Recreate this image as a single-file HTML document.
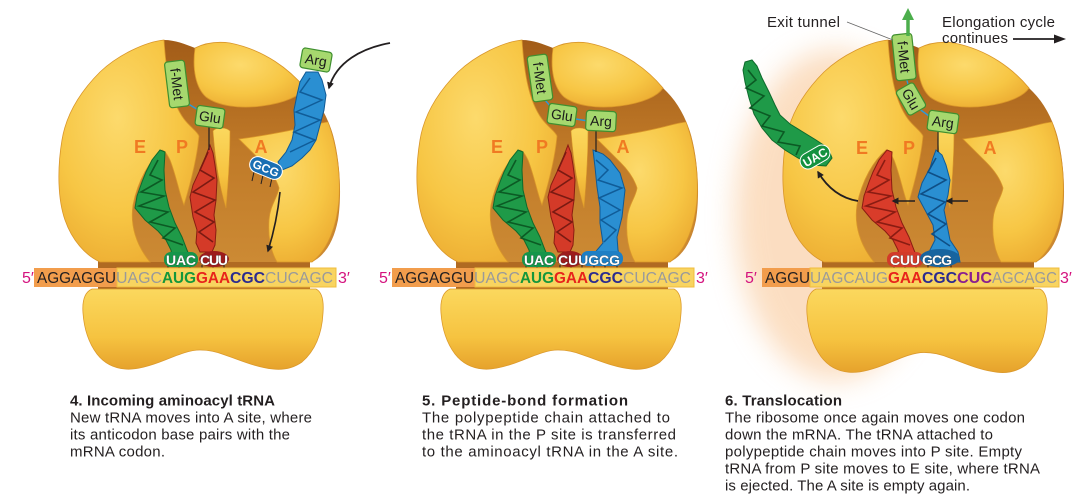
<!DOCTYPE html>
<html><head><meta charset="utf-8"><style>
html,body{margin:0;padding:0;background:#fff;}
svg{display:block;}
text{font-family:"Liberation Sans",Arial,sans-serif;}
</style></head><body>
<svg width="1080" height="501" viewBox="0 0 1080 501" xmlns="http://www.w3.org/2000/svg">
<defs>
 <radialGradient id="yel" cx="0.42" cy="0.35" r="0.8">
  <stop offset="0" stop-color="#fcda6c"/>
  <stop offset="0.55" stop-color="#f7c644"/>
  <stop offset="1" stop-color="#e9a42c"/>
 </radialGradient>
 <linearGradient id="yel2" x1="0" y1="0" x2="0" y2="1">
  <stop offset="0" stop-color="#fbd85e"/>
  <stop offset="0.6" stop-color="#f6c340"/>
  <stop offset="1" stop-color="#e6a22c"/>
 </linearGradient>
 <linearGradient id="brn" x1="0" y1="0" x2="0" y2="1">
  <stop offset="0" stop-color="#a25c18"/>
  <stop offset="0.5" stop-color="#c07a28"/>
  <stop offset="1" stop-color="#cc8a34"/>
 </linearGradient>
 <filter id="blur" x="-50%" y="-50%" width="200%" height="200%"><feGaussianBlur stdDeviation="14"/></filter>
 <marker id="ah" viewBox="0 0 10 10" refX="8" refY="5" markerWidth="7" markerHeight="7" orient="auto" markerUnits="userSpaceOnUse">
  <path d="M0,0 L10,5 L0,10 z" fill="#231f20"/>
 </marker>
 <g id="large">
  <rect x="98" y="250" width="212" height="40" fill="#b06a22"/>
  <path d="M164,40 C145,42 118,55 100,72 C80,92 66,115 62,140 C57,170 58,200 65,220 C72,240 85,255 100,262 L312,262 C326,255 334,240 338,220 C342,195 340,160 333,135 C327,115 318,100 305,88 C290,70 265,50 230,43 C215,41 203,44 195,48 C185,44 175,40 164,40 Z" fill="url(#brn)"/>
  <path d="M164,40 C166,70 170,100 184,119 C190,127 197,131 199,136 C197,160 190,185 184,205 C180,196 176,175 170,160 C167,154 165,151 162,150 C150,160 138,180 133,205 C130,225 136,245 150,262 L100,262 C85,255 72,240 65,220 C58,200 57,170 62,140 C66,115 80,92 100,72 C118,55 145,42 164,40 Z" fill="url(#yel)" stroke="#d9962a" stroke-width="0.8"/>
  <path d="M195,48 C203,44 215,41 230,43 C265,50 290,70 305,88 C300,96 285,103 262,106 C240,109 218,106 206,97 C196,88 192,70 195,48 Z" fill="url(#yel)" stroke="#d9962a" stroke-width="0.8"/>
  <path d="M213,131 C216,127 226,127 230,131 C230,160 228,185 226,208 C222,195 216,170 213,131 Z" fill="url(#yel2)" stroke="#d9962a" stroke-width="0.6"/>
  <path d="M239,139 C255,137 285,132 305,127 C313,125 320,123 328,122 C335,140 341,170 339,200 C337,225 328,250 312,262 L277,262 C270,250 268,235 269,220 C270,205 278,197 279,188 C276,178 270,170 262,162 C254,154 246,146 239,139 Z" fill="url(#yel)" stroke="#d9962a" stroke-width="0.8"/>
 </g>
 <path id="small" d="M92,289 L316,289 C322,292 324,300 323,313 C322,332 316,350 302,362 C292,369 282,370 273,369 C255,367 240,360 225,355 C215,351 205,350 200,350 C190,350 180,354 165,360 C150,366 135,370 125,369 C113,368 104,363 97,354 C88,342 84,327 83,313 C82,300 85,292 92,289 Z" fill="url(#yel2)" stroke="#dc9a2c" stroke-width="0.8"/>
</defs>

<!-- panel 3 halo -->
<ellipse cx="835" cy="215" rx="100" ry="165" fill="#f8bd84" opacity="0.5" filter="url(#blur)"/>

<!-- ribosomes -->
<use href="#large"/>
<use href="#small"/>
<use href="#large" transform="translate(358,0)"/>
<use href="#small" transform="translate(358,0)"/>
<use href="#large" transform="translate(724,0)"/>
<use href="#small" transform="translate(724,289) scale(1,1.04) translate(0,-289)"/>

<!-- E P A labels -->
<g font-weight="bold" font-size="18" fill="#f07a22" text-anchor="middle">
 <text x="140" y="153">E</text><text x="182" y="153">P</text><text x="261" y="153">A</text>
 <text x="497" y="153">E</text><text x="542" y="153">P</text><text x="623" y="153">A</text>
 <text x="862" y="154">E</text><text x="909" y="154">P</text><text x="990" y="154">A</text>
</g>

<!-- ===== Panel 1 tRNAs ===== -->
<polygon points="160,150 165,152 164,170 165,190 169,207 175,223 182,237 187,250 190,257 172,258 171,250 166,240 158,231 145,220 135,208 137,196 142,182 146,172 152,160" fill="#1f9a48" stroke="#0e6a2c" stroke-width="1"/>
<polyline points="158,160 150,175 162,180 141,192 164,196 139,206 168,212 150,222 175,228 163,238 183,245" fill="none" stroke="#0c5a24" stroke-width="1.6"/>
<polygon points="210,145 213,153 215,165 217,180 216,200 214,215 216,230 215,245 212,252 200,252 196,243 197,230 193,217 190,197 193,185 199,172 205,158" fill="#d43a28" stroke="#8a1c12" stroke-width="1"/>
<polyline points="208,152 200,170 214,178 193,192 215,200 195,212 214,222 199,232 213,242" fill="none" stroke="#7a1a12" stroke-width="1.6"/>
<polygon points="306,72 318,72 322,80 326,95 324,110 320,125 316,140 310,150 302,158 292,166 282,170 278,162 286,152 292,140 295,125 294,110 297,95 300,82" fill="#2a8fd2" stroke="#0f5a96" stroke-width="1"/>
<polyline points="310,78 300,92 322,100 296,112 320,120 294,132 315,140 290,152" fill="none" stroke="#105c98" stroke-width="1.5"/>
<!-- GCG pill -->
<g stroke="#231f20" stroke-width="1">
 <line x1="254" y1="172" x2="252" y2="181"/><line x1="263" y1="175" x2="261" y2="184"/><line x1="272" y1="178" x2="270" y2="187"/>
</g>
<g transform="translate(266,168) rotate(22)">
 <rect x="-17" y="-8" width="34" height="16" rx="8" fill="#1a6fb3" stroke="#fff" stroke-width="1"/>
 <text x="0" y="4.5" text-anchor="middle" font-size="12" font-weight="bold" fill="#fff">GCG</text>
</g>
<!-- peptide panel 1 -->
<line x1="185" y1="102" x2="200" y2="111" stroke="#2a9ad8" stroke-width="1.4"/>
<line x1="209" y1="127" x2="209" y2="150" stroke="#231f20" stroke-width="1.2"/>
<g transform="translate(177,84) rotate(83)">
 <rect x="-23" y="-10" width="46" height="20" rx="3" fill="#a6d86e" stroke="#3f8f2f" stroke-width="1.2"/>
 <text x="0" y="5" text-anchor="middle" font-size="14" fill="#1a1a1a">f-Met</text>
</g>
<g transform="translate(210,117) rotate(8)">
 <rect x="-14" y="-10" width="28" height="20" rx="3" fill="#a6d86e" stroke="#3f8f2f" stroke-width="1.2"/>
 <text x="0" y="5" text-anchor="middle" font-size="14" fill="#1a1a1a">Glu</text>
</g>
<g transform="translate(316,60) rotate(10)">
 <rect x="-15" y="-10" width="30" height="20" rx="3" fill="#a6d86e" stroke="#3f8f2f" stroke-width="1.2"/>
 <text x="0" y="5" text-anchor="middle" font-size="14" fill="#1a1a1a">Arg</text>
</g>
<!-- arrows panel 1 -->
<path d="M390,43 C362,48 336,62 329,88" fill="none" stroke="#231f20" stroke-width="1.8" marker-end="url(#ah)"/>
<path d="M280,192 Q277,222 268,251" fill="none" stroke="#231f20" stroke-width="1.6" marker-end="url(#ah)"/>

<!-- ===== Panel 2 tRNAs ===== -->
<g transform="translate(358,0)">
 <polygon points="160,150 165,152 164,170 165,190 169,207 175,223 182,237 187,250 190,257 172,258 171,250 166,240 158,231 145,220 135,208 137,196 142,182 146,172 152,160" fill="#1f9a48" stroke="#0e6a2c" stroke-width="1"/>
 <polyline points="158,160 150,175 162,180 141,192 164,196 139,206 168,212 150,222 175,228 163,238 183,245" fill="none" stroke="#0c5a24" stroke-width="1.6"/>
 <polygon points="210,145 213,153 215,165 217,180 216,200 214,215 216,230 215,245 212,252 200,252 196,243 197,230 193,217 190,197 193,185 199,172 205,158" fill="#d43a28" stroke="#8a1c12" stroke-width="1"/>
 <polyline points="208,152 200,170 214,178 193,192 215,200 195,212 214,222 199,232 213,242" fill="none" stroke="#7a1a12" stroke-width="1.6"/>
 <polygon points="235,150 245,154 252,160 262,173 267,190 264,217 259,237 260,250 262,258 232,260 239,250 245,243 242,223 242,207 239,187 237,167" fill="#2a8fd2" stroke="#0f5a96" stroke-width="1"/>
 <polyline points="238,160 250,170 240,180 264,188 241,198 262,210 243,220 258,230 246,242" fill="none" stroke="#105c98" stroke-width="1.5"/>
</g>
<line x1="545" y1="100" x2="551" y2="107" stroke="#2a9ad8" stroke-width="1.4"/>
<line x1="576" y1="119" x2="588" y2="121" stroke="#2a9ad8" stroke-width="1.4"/>
<line x1="596" y1="130" x2="596" y2="152" stroke="#231f20" stroke-width="1.2"/>
<g transform="translate(540,78) rotate(82)">
 <rect x="-23" y="-10" width="46" height="20" rx="3" fill="#a6d86e" stroke="#3f8f2f" stroke-width="1.2"/>
 <text x="0" y="5" text-anchor="middle" font-size="14" fill="#1a1a1a">f-Met</text>
</g>
<g transform="translate(562,115) rotate(8)">
 <rect x="-14" y="-10" width="28" height="20" rx="3" fill="#a6d86e" stroke="#3f8f2f" stroke-width="1.2"/>
 <text x="0" y="5" text-anchor="middle" font-size="14" fill="#1a1a1a">Glu</text>
</g>
<g transform="translate(601,121) rotate(3)">
 <rect x="-15" y="-10" width="30" height="20" rx="3" fill="#a6d86e" stroke="#3f8f2f" stroke-width="1.2"/>
 <text x="0" y="5" text-anchor="middle" font-size="14" fill="#1a1a1a">Arg</text>
</g>

<!-- ===== Panel 3 ===== -->
<g transform="translate(727,0)">
 <polygon points="160,150 165,152 164,170 165,190 169,207 175,223 182,237 187,250 190,257 172,258 171,250 166,240 158,231 145,220 135,208 137,196 142,182 146,172 152,160" fill="#d93c2a" stroke="#8a1c12" stroke-width="1"/>
 <polyline points="158,160 150,175 162,180 141,192 164,196 139,206 168,212 150,222 175,228 163,238 183,245" fill="none" stroke="#8a1c12" stroke-width="1.6"/>
</g>
<polygon points="936,150 942,155 946,165 950,180 948,195 944,210 947,225 950,240 958,252 960,262 928,263 930,250 935,240 933,225 925,210 918,197 922,183 930,168 933,158" fill="#2a8fd2" stroke="#0f5a96" stroke-width="1"/>
<polyline points="936,158 928,172 946,180 921,194 945,202 928,214 946,224 932,234 950,246" fill="none" stroke="#0f4f86" stroke-width="1.6"/>
<polygon points="745,62 752,60 757,66 762,78 769,92 775,105 780,115 790,124 803,132 816,140 828,148 832,158 826,166 812,165 798,158 785,150 772,140 762,128 754,114 749,98 745,82 743,70" fill="#1f9a48" stroke="#0e6a2c" stroke-width="1"/>
<polyline points="748,70 756,80 746,88 764,96 750,108 770,116 762,126 784,132 778,142 800,146 796,155" fill="none" stroke="#0c5a24" stroke-width="1.6"/>
<g transform="translate(815,157) rotate(-30)">
 <rect x="-16" y="-8" width="32" height="16" rx="8" fill="#14913f" stroke="#fff" stroke-width="1"/>
 <text x="0" y="4.5" text-anchor="middle" font-size="12" font-weight="bold" fill="#fff">UAC</text>
</g>
<!-- peptide panel 3 -->
<line x1="906" y1="77" x2="909" y2="88" stroke="#2a9ad8" stroke-width="1.4"/>
<line x1="918" y1="108" x2="929" y2="116" stroke="#2a9ad8" stroke-width="1.4"/>
<line x1="938" y1="130" x2="938" y2="152" stroke="#231f20" stroke-width="1.2"/>
<g transform="translate(904,57) rotate(84)">
 <rect x="-23" y="-10" width="46" height="20" rx="3" fill="#a6d86e" stroke="#3f8f2f" stroke-width="1.2"/>
 <text x="0" y="5" text-anchor="middle" font-size="14" fill="#1a1a1a">f-Met</text>
</g>
<g transform="translate(911,99) rotate(60)">
 <rect x="-14" y="-10" width="28" height="20" rx="3" fill="#a6d86e" stroke="#3f8f2f" stroke-width="1.2"/>
 <text x="0" y="5" text-anchor="middle" font-size="14" fill="#1a1a1a">Glu</text>
</g>
<g transform="translate(943,122) rotate(8)">
 <rect x="-15" y="-10" width="30" height="20" rx="3" fill="#a6d86e" stroke="#3f8f2f" stroke-width="1.2"/>
 <text x="0" y="5" text-anchor="middle" font-size="14" fill="#1a1a1a">Arg</text>
</g>
<!-- arrows panel 3 -->
<path d="M858,201 Q833,197 818,172" fill="none" stroke="#231f20" stroke-width="1.8" marker-end="url(#ah)"/>
<line x1="915" y1="201" x2="893" y2="201" stroke="#231f20" stroke-width="1.6" marker-end="url(#ah)"/>
<line x1="968" y1="201" x2="947" y2="201" stroke="#231f20" stroke-width="1.6" marker-end="url(#ah)"/>
<line x1="908" y1="36" x2="908" y2="18" stroke="#4cae4c" stroke-width="3.5"/>
<polygon points="902,20 914,20 908,8" fill="#4cae4c"/>
<line x1="847" y1="22" x2="893" y2="40" stroke="#666" stroke-width="0.8"/>
<line x1="1013" y1="39" x2="1056" y2="39" stroke="#231f20" stroke-width="1.8"/>
<polygon points="1054,34.5 1066,39 1054,43.5" fill="#231f20"/>
<g font-size="15" fill="#231f20">
 <text x="767" y="27" textLength="73">Exit tunnel</text>
 <text x="942" y="27" textLength="113">Elongation cycle</text>
 <text x="942" y="43" textLength="66">continues</text>
</g>

<!-- ===== anticodon pills & ticks ===== -->
<g stroke="#231f20" stroke-width="1">
 <line x1="168" y1="265" x2="168" y2="271"/><line x1="179" y1="265" x2="179" y2="271"/><line x1="190" y1="265" x2="190" y2="271"/>
 <line x1="202" y1="265" x2="202" y2="271"/><line x1="213" y1="265" x2="213" y2="271"/><line x1="224" y1="265" x2="224" y2="271"/>
 <line x1="526" y1="265" x2="526" y2="271"/><line x1="537" y1="265" x2="537" y2="271"/><line x1="548" y1="265" x2="548" y2="271"/>
 <line x1="560" y1="265" x2="560" y2="271"/><line x1="571" y1="265" x2="571" y2="271"/><line x1="582" y1="265" x2="582" y2="271"/>
 <line x1="594" y1="265" x2="594" y2="271"/><line x1="605" y1="265" x2="605" y2="271"/><line x1="617" y1="265" x2="617" y2="271"/>
 <line x1="894" y1="265" x2="894" y2="271"/><line x1="905" y1="265" x2="905" y2="271"/><line x1="916" y1="265" x2="916" y2="271"/>
 <line x1="928" y1="265" x2="928" y2="271"/><line x1="940" y1="265" x2="940" y2="271"/><line x1="951" y1="265" x2="951" y2="271"/>
</g>
<rect x="164" y="252" width="34" height="15" rx="7" fill="#15954a"/>
<ellipse cx="214" cy="259" rx="15" ry="8" fill="#9c1c1c"/>
<rect x="522" y="252" width="34" height="15" rx="7" fill="#15954a"/>
<ellipse cx="570" cy="259" rx="13" ry="8" fill="#9c1c1c"/>
<rect x="581" y="251" width="42" height="15" rx="7" fill="#1e7fc4"/>
<rect x="887" y="252" width="36" height="15" rx="7" fill="#d23a2a"/>
<ellipse cx="940" cy="258" rx="20" ry="9" fill="#17649f"/>
<g font-size="14" font-weight="bold" fill="#fff" stroke="#333" stroke-width="0.5" paint-order="stroke" text-anchor="middle">
 <text x="181" y="265" textLength="30">UAC</text><text x="214" y="265" textLength="28">CUU</text>
 <text x="539" y="265" textLength="30">UAC</text><text x="589" y="265" textLength="62">CUUGCG</text>
 <text x="905" y="265" textLength="30">CUU</text><text x="937" y="265" textLength="30">GCG</text>
</g>

<!-- ===== mRNA strips ===== -->
<rect x="34" y="268" width="83" height="19" fill="#f29d4c"/>
<rect x="117" y="268" width="219" height="19" fill="#f8d460" stroke="#f0bd3c" stroke-width="1"/>
<rect x="392" y="268" width="83" height="19" fill="#f29d4c"/>
<rect x="475" y="268" width="219" height="19" fill="#f8d460" stroke="#f0bd3c" stroke-width="1"/>
<rect x="762" y="268" width="48" height="19" fill="#f29d4c"/>
<rect x="810" y="268" width="249" height="19" fill="#f8d460" stroke="#f0bd3c" stroke-width="1"/>
<g font-size="16">
 <text x="22" y="283" fill="#d4127e">5′</text><text x="338" y="283" fill="#d4127e">3′</text>
 <text x="37" y="283" textLength="79" lengthAdjust="spacingAndGlyphs" fill="#231f20">AGGAGGU</text>
 <text x="116" y="283" textLength="46" lengthAdjust="spacingAndGlyphs" fill="#9a9a9a">UAGC</text>
 <text x="162" y="283" textLength="34" lengthAdjust="spacingAndGlyphs" fill="#14973c" font-weight="bold">AUG</text>
 <text x="196" y="283" textLength="34" lengthAdjust="spacingAndGlyphs" fill="#e8231c" font-weight="bold">GAA</text>
 <text x="230" y="283" textLength="35" lengthAdjust="spacingAndGlyphs" fill="#2b2b8f" font-weight="bold">CGC</text>
 <text x="265" y="283" textLength="68" lengthAdjust="spacingAndGlyphs" fill="#9a9a9a">CUCAGC</text>

 <text x="379" y="283" fill="#d4127e">5′</text><text x="696" y="283" fill="#d4127e">3′</text>
 <text x="395" y="283" textLength="79" lengthAdjust="spacingAndGlyphs" fill="#231f20">AGGAGGU</text>
 <text x="474" y="283" textLength="46" lengthAdjust="spacingAndGlyphs" fill="#9a9a9a">UAGC</text>
 <text x="520" y="283" textLength="34" lengthAdjust="spacingAndGlyphs" fill="#14973c" font-weight="bold">AUG</text>
 <text x="554" y="283" textLength="34" lengthAdjust="spacingAndGlyphs" fill="#e8231c" font-weight="bold">GAA</text>
 <text x="588" y="283" textLength="35" lengthAdjust="spacingAndGlyphs" fill="#2b2b8f" font-weight="bold">CGC</text>
 <text x="623" y="283" textLength="68" lengthAdjust="spacingAndGlyphs" fill="#9a9a9a">CUCAGC</text>

 <text x="745" y="283" fill="#d4127e">5′</text><text x="1060" y="283" fill="#d4127e">3′</text>
 <text x="765" y="283" textLength="45" lengthAdjust="spacingAndGlyphs" fill="#231f20">AGGU</text>
 <text x="810" y="283" textLength="78" lengthAdjust="spacingAndGlyphs" fill="#9a9a9a">UAGCAUG</text>
 <text x="888" y="283" textLength="34" lengthAdjust="spacingAndGlyphs" fill="#e8231c" font-weight="bold">GAA</text>
 <text x="922" y="283" textLength="35" lengthAdjust="spacingAndGlyphs" fill="#2b2b8f" font-weight="bold">CGC</text>
 <text x="957" y="283" textLength="35" lengthAdjust="spacingAndGlyphs" fill="#8a1f8f" font-weight="bold">CUC</text>
 <text x="992" y="283" textLength="65" lengthAdjust="spacingAndGlyphs" fill="#9a9a9a">AGCAGC</text>
</g>

<!-- ===== captions ===== -->
<g font-size="15" fill="#231f20">
 <text x="70" y="405.5" font-weight="bold" textLength="205">4. Incoming aminoacyl tRNA</text>
 <text x="70" y="422.5" textLength="242">New tRNA moves into A site, where</text>
 <text x="70" y="439.5" textLength="220">its anticodon base pairs with the</text>
 <text x="70" y="456.5" textLength="95">mRNA codon.</text>

 <text x="422" y="405.5" font-weight="bold" textLength="206">5. Peptide-bond formation</text>
 <text x="422" y="422.5" textLength="248">The polypeptide chain attached to</text>
 <text x="422" y="439.5" textLength="254">the tRNA in the P site is transferred</text>
 <text x="422" y="456.5" textLength="256">to the aminoacyl tRNA in the A site.</text>

 <text x="725" y="405.5" font-weight="bold" textLength="117">6. Translocation</text>
 <text x="725" y="422.5" textLength="300">The ribosome once again moves one codon</text>
 <text x="725" y="439.5" textLength="268">down the mRNA. The tRNA attached to</text>
 <text x="725" y="456.5" textLength="297">polypeptide chain moves into P site. Empty</text>
 <text x="725" y="473.5" textLength="315">tRNA from P site moves to E site, where tRNA</text>
 <text x="725" y="490.5" textLength="245">is ejected. The A site is empty again.</text>
</g>
</svg>
</body></html>
